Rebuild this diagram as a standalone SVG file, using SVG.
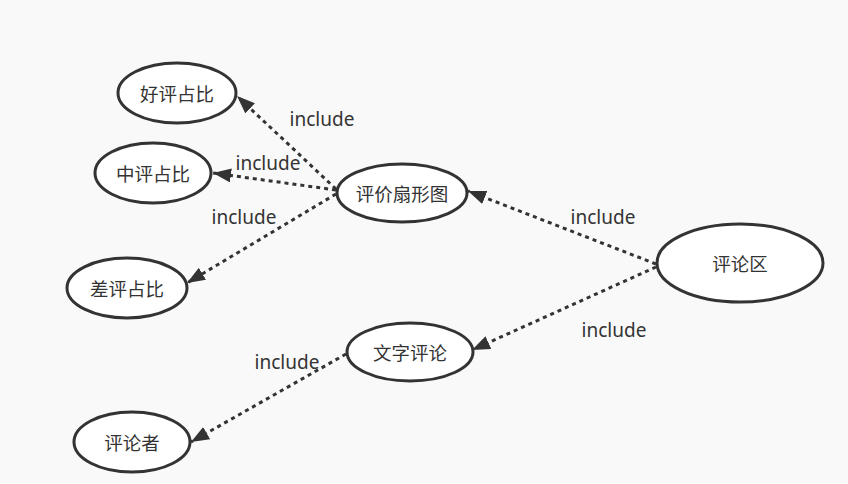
<svg xmlns="http://www.w3.org/2000/svg" width="848" height="484" viewBox="0 0 848 484">
<style>
.node ellipse{fill:#ffffff;stroke:#333333;stroke-width:3}
.node text{font-family:"Noto Sans CJK SC","Noto Sans",sans-serif;font-size:18.5px;fill:#333333;text-anchor:middle;dominant-baseline:central}
.edge line{stroke:#333333;stroke-width:3;stroke-dasharray:4 4;fill:none}
.lbl{font-family:"Noto Sans","Liberation Sans",sans-serif;font-size:19px;fill:#333333;text-anchor:middle;dominant-baseline:central}
</style>
<defs>
<marker id="arr" viewBox="0 0 18 14" refX="18" refY="7" markerWidth="18" markerHeight="14" markerUnits="userSpaceOnUse" orient="auto">
<path d="M0,0 L18,7 L0,14 Z" fill="#333333"/>
</marker>
</defs>
<rect width="848" height="484" fill="#f9f9f9"/>
<g id="connectors" class="edge">
<line x1="336" y1="189" x2="237" y2="96" marker-end="url(#arr)"/>
<line x1="336" y1="190" x2="213" y2="173" marker-end="url(#arr)"/>
<line x1="336" y1="194" x2="187" y2="283" marker-end="url(#arr)"/>
<line x1="656" y1="264" x2="468" y2="191" marker-end="url(#arr)"/>
<line x1="656" y1="267" x2="472" y2="350" marker-end="url(#arr)"/>
<line x1="346" y1="354" x2="191" y2="442" marker-end="url(#arr)"/>
<text class="lbl" x="322" y="119">include</text>
<text class="lbl" x="268" y="163">include</text>
<text class="lbl" x="244" y="217">include</text>
<text class="lbl" x="603" y="217">include</text>
<text class="lbl" x="614" y="330">include</text>
<text class="lbl" x="287" y="362">include</text>
</g>
<g id="haoping" class="node"><ellipse cx="177" cy="93" rx="59" ry="30"/><text x="177" y="93">好评占比</text></g>
<g id="zhongping" class="node"><ellipse cx="153" cy="173" rx="58" ry="30"/><text x="153" y="173">中评占比</text></g>
<g id="chaping" class="node"><ellipse cx="127" cy="288" rx="60" ry="30"/><text x="127" y="288">差评占比</text></g>
<g id="shanxingtu" class="node"><ellipse cx="402" cy="193" rx="65" ry="29"/><text x="402" y="193">评价扇形图</text></g>
<g id="wenzipinglun" class="node"><ellipse cx="410" cy="352" rx="63" ry="29"/><text x="410" y="352">文字评论</text></g>
<g id="pinglunqu" class="node"><ellipse cx="740" cy="263" rx="83" ry="39"/><text x="740" y="263">评论区</text></g>
<g id="pinglunzhe" class="node"><ellipse cx="132" cy="442" rx="58" ry="30"/><text x="132" y="442">评论者</text></g>
</svg>
